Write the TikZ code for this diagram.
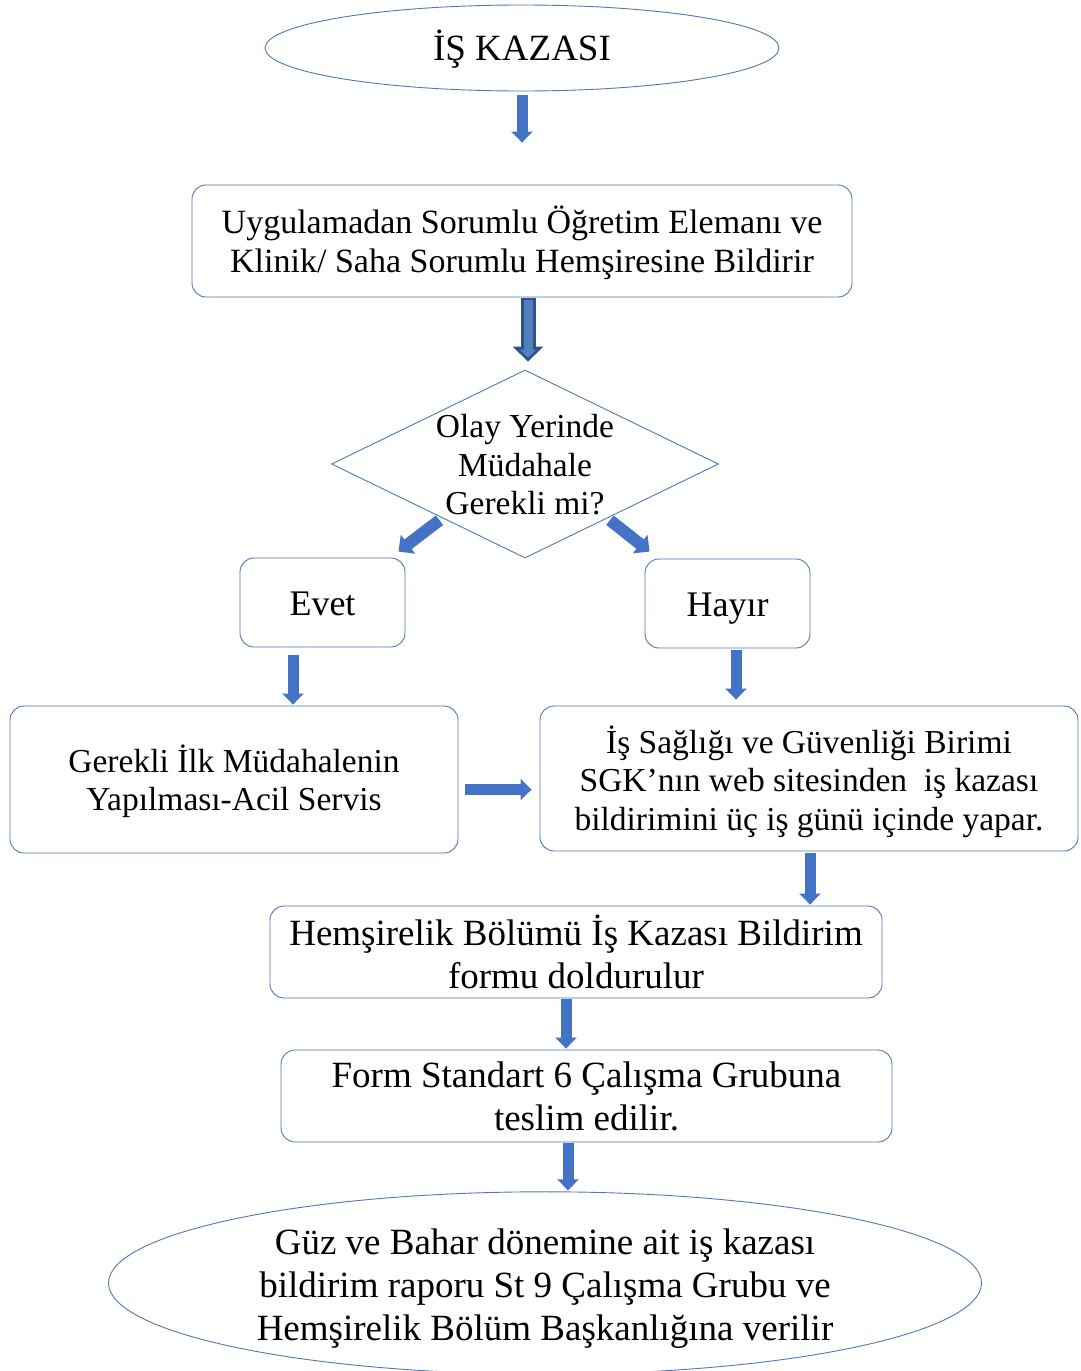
\documentclass[tikz,border=0pt]{standalone}
\usepackage{fontspec}
\setmainfont{Liberation Serif}
\usetikzlibrary{shapes.geometric,arrows.meta}
\definecolor{edge}{HTML}{5077BA}
\definecolor{ablue}{HTML}{4472C4}
\definecolor{adark}{HTML}{2F528F}
\definecolor{alight}{HTML}{4F81BD}
\newcommand{\lowered}[2]{\raisebox{-#1}[\height][\depth]{\begin{tabular}{@{}c@{}}#2\end{tabular}}}
\newcommand{\diatext}[2]{\smash{\raisebox{-#1}{\begin{tabular}{@{}c@{}}#2\end{tabular}}}}
\tikzset{
  shp/.style={draw=edge, line width=0.9pt, inner sep=0pt, align=center, text=black},
  rbox/.style={shp, rectangle, rounded corners=14pt},
  ell/.style={shp, ellipse},
  dia/.style={shp, diamond},
  fA/.style={font=\fontsize{34}{39}\selectfont},
  fB/.style={font=\fontsize{33.5}{38.5}\selectfont},
  fC/.style={font=\fontsize{37}{43}\selectfont},
  fD/.style={font=\fontsize{36}{40}\selectfont},
  blk/.style={draw=ablue, line width=11pt, -{Triangle[width=21pt,length=11pt]}},
  dblk/.style={draw=ablue, line width=12pt, -{Triangle[width=23pt,length=12pt]}},
}
\begin{document}
\begin{tikzpicture}[x=1pt,y=-1pt]
\useasboundingbox (0,0) rectangle (1080,1371);
\fill[white] (0,0) rectangle (1080,1371);

\node[ell, fC, minimum width=514pt, minimum height=86pt] (e1) at (522,48) {\lowered{4pt}{İŞ KAZASI}};
\node[rbox, fA, minimum width=660pt, minimum height=112pt] (b2) at (522,241)
  {\lowered{4pt}{Uygulamadan Sorumlu Öğretim Elemanı ve\\Klinik/ Saha Sorumlu Hemşiresine Bildirir}};
\node[dia, fB, minimum width=387pt, minimum height=188pt] (dia) at (525,464)
  {\diatext{11pt}{Olay Yerinde\\Müdahale\\Gerekli mi?}};
\node[rbox, fD, minimum width=165pt, minimum height=89pt] (evet) at (322.5,602.5) {\lowered{5pt}{Evet}};
\node[rbox, fD, minimum width=165pt, minimum height=89pt] (hayir) at (727.5,603.5) {\lowered{5pt}{Hayır}};
\node[rbox, fB, minimum width=448pt, minimum height=147pt] (left) at (234,779.5)
  {\lowered{4pt}{Gerekli İlk Müdahalenin\\Yapılması-Acil Servis}};
\node[rbox, fB, minimum width=538pt, minimum height=145pt] (right) at (809,778.5)
  {\lowered{5pt}{İş Sağlığı ve Güvenliği Birimi\\SGK’nın web sitesinden\ \ iş kazası\\bildirimini üç iş günü içinde yapar.}};
\node[rbox, fC, minimum width=612pt, minimum height=92pt] (hems) at (576,952)
  {Hemşirelik Bölümü İş Kazası Bildirim\\formu doldurulur};
\node[rbox, fC, minimum width=611pt, minimum height=92pt] (form) at (586.5,1096)
  {Form Standart 6 Çalışma Grubuna\\teslim edilir.};
\node[ell, fC, minimum width=873pt, minimum height=176pt] (e2) at (545,1283)
  {\lowered{6pt}{Güz ve Bahar dönemine ait iş kazası\\bildirim raporu St 9 Çalışma Grubu ve\\Hemşirelik Bölüm Başkanlığına verilir}};

% connectors
\draw[blk, shorten <=4pt, shorten >=42pt] (e1.south) -- (b2.north);
\draw[draw=adark, line width=15pt, -{Triangle[width=30pt,length=15pt]}, shorten <=1pt, shorten >=8pt]
  ([xshift=6pt]b2.south) -- ([xshift=6pt]b2.south |- dia.north);
\draw[draw=alight, line width=9pt, -{Triangle[width=16pt,length=8pt]}, shorten <=3pt, shorten >=12pt]
  ([xshift=6pt]b2.south) -- ([xshift=6pt]b2.south |- dia.north);
\draw[dblk] ([shift={(11.5,9)}]dia.south west) -- ([shift={(-7,-6)}]evet.north east);
\draw[dblk] ([shift={(-12,9)}]dia.south east) -- ([shift={(5,-7)}]hayir.north west);
\draw[blk, shorten <=8pt, shorten >=1pt] ([xshift=-29.5pt]evet.south) -- ([xshift=-29.5pt]evet.south |- left.north);
\draw[blk, shorten <=2pt, shorten >=6pt] ([xshift=8.5pt]hayir.south) -- ([xshift=8.5pt]hayir.south |- right.north);
\draw[blk, shorten <=7pt, shorten >=8pt] ([yshift=-10pt]left.east) -- ([yshift=-10pt]left.east -| right.west);
\draw[blk, shorten <=2pt, shorten >=1pt] ([xshift=1pt]right.south) -- ([xshift=1pt]right.south |- hems.north);
\draw[blk, shorten <=1pt, shorten >=1pt] ([xshift=-10pt]hems.south) -- ([xshift=-10pt]hems.south |- form.north);
\draw[blk, shorten <=1pt, shorten >=1pt] ([xshift=-18.5pt]form.south) -- ([xshift=-18.5pt]form.south |- e2.north);
\end{tikzpicture}
\end{document}
